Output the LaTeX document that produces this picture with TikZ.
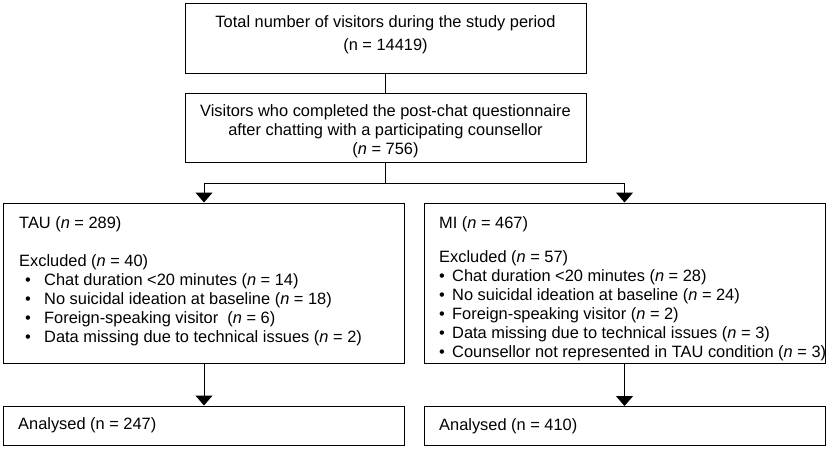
\documentclass[tikz,border=0pt]{standalone}
\usepackage{fontspec}
\setmainfont{Liberation Sans}
\usetikzlibrary{arrows.meta}
\begin{document}
\begin{tikzpicture}[x=1pt,y=-1pt,
  box/.style={draw,line width=1pt,inner sep=0pt,minimum width=401pt},
  txt/.style={inner sep=0pt,font=\fontsize{16.4}{19}\selectfont},
  arr/.style={line width=1pt,-{Triangle[width=17pt,length=10pt]}},
  con/.style={line width=1pt}]
\useasboundingbox (0,0) rectangle (829,450);
% boxes
\node[box,minimum height=70pt] (tot) at (385.5,38) {};
\node[box,minimum height=69pt] (q) at (385.5,127.5) {};
\node[box,minimum height=160pt] (tau) at (204,283) {};
\node[box,minimum height=160pt] (mi) at (624.5,283) {};
\node[box,minimum height=39pt] (atau) at (204,425.5) {};
\node[box,minimum height=39pt] (ami) at (624.5,426) {};
% texts
\node[txt,anchor=base] (t1) at (385.5,27) {Total number of visitors during the study period};
\node[txt,anchor=base] (t2) at (385.5,50) {(n = 14419)};
\node[txt,anchor=base] (q1) at (385.5,116) {Visitors who completed the post-chat questionnaire};
\node[txt,anchor=base] (q2) at (385.5,135) {after chatting with a participating counsellor};
\node[txt,anchor=base] (q3) at (385.5,154) {(\textit{n} = 756)};
\node[txt,anchor=north west,align=left] (taut) at (19,216) {TAU (\textit{n} = 289)\\[19pt]
Excluded (\textit{n} = 40)\\
\hspace*{6pt}\makebox[19pt][l]{•}Chat duration <20 minutes (\textit{n} = 14)\\
\hspace*{6pt}\makebox[19pt][l]{•}No suicidal ideation at baseline (\textit{n} = 18)\\
\hspace*{6pt}\makebox[19pt][l]{•}Foreign-speaking visitor~ (\textit{n} = 6)\\
\hspace*{6pt}\makebox[19pt][l]{•}Data missing due to technical issues (\textit{n} = 2)};
\begin{scope}
\clip (mi.north west) rectangle (mi.south east);
\node[txt,anchor=north west,align=left] (mit) at (439,216) {MI (\textit{n} = 467)\\[15pt]
Excluded (\textit{n} = 57)\\
\makebox[13pt][l]{•}Chat duration <20 minutes (\textit{n} = 28)\\
\makebox[13pt][l]{•}No suicidal ideation at baseline (\textit{n} = 24)\\
\makebox[13pt][l]{•}Foreign-speaking visitor (\textit{n} = 2)\\
\makebox[13pt][l]{•}Data missing due to technical issues (\textit{n} = 3)\\
\makebox[13pt][l]{•}Counsellor not represented in TAU condition (\textit{n} = 3)};
\end{scope}
\node[txt,anchor=base west] (atxt) at (18,429) {Analysed (n = 247)};
\node[txt,anchor=base west] (btxt) at (439,430) {Analysed (n = 410)};
% connectors
\draw[con] (tot.south) -- (q.north);
\draw[con] (q.south) -- ++(0,21) coordinate (split);
\draw[arr] (split) -| (tau.north);
\draw[arr] (split) -| (mi.north);
\draw[arr] (tau.south) -- (atau.north);
\draw[arr] (mi.south) -- (ami.north);
\end{tikzpicture}
\end{document}
